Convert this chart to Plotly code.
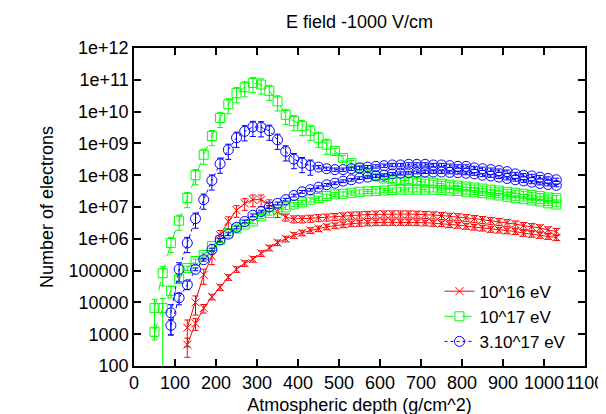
import plotly.graph_objects as go

# atmospheric depth grids (g/cm^2), one per energy
depth_16 = list(range(130, 1031, 20))
depth_17 = list(range(50, 1031, 20))
depth_3e17 = list(range(90, 1031, 20))

# 10^16 eV: upper branch (with field peak) and lower branch
e16_hi = [1.6e3, 1.0e4, 7.4e4, 2.8e5, 1.3e6, 3.5e6, 7.9e6, 1.3e7, 1.7e7, 1.7e7,
          1.2e7, 7.2e6, 4.8e6, 4.2e6, 4.2e6, 4.4e6, 4.6e6, 4.8e6, 5.0e6, 5.2e6,
          5.5e6, 5.6e6, 5.8e6, 5.9e6, 6.0e6, 6.0e6, 6.0e6, 6.0e6, 5.9e6, 5.8e6,
          5.6e6, 5.4e6, 5.1e6, 4.9e6, 4.6e6, 4.3e6, 4.0e6, 3.7e6, 3.5e6, 3.2e6,
          2.9e6, 2.6e6, 2.4e6, 2.2e6, 1.9e6, 1.7e6]
e16_lo = [4.7e2, 2.2e3, 6.6e3, 1.5e4, 3.0e4, 6.2e4, 1.1e5, 1.7e5, 2.3e5, 3.5e5,
          5.2e5, 7.6e5, 1.0e6, 1.3e6, 1.55e6, 1.85e6, 2.1e6, 2.4e6, 2.6e6, 2.8e6,
          3.0e6, 3.1e6, 3.2e6, 3.25e6, 3.3e6, 3.3e6, 3.3e6, 3.3e6, 3.25e6, 3.2e6,
          3.1e6, 3.0e6, 2.8e6, 2.7e6, 2.5e6, 2.35e6, 2.2e6, 2.0e6, 1.9e6, 1.8e6,
          1.7e6, 1.5e6, 1.4e6, 1.3e6, 1.2e6, 1.1e6]

# 10^17 eV
e17_hi = [6.6e3, 8.3e4, 7.4e5, 3.7e6, 1.9e7, 1.0e8, 4.4e8, 1.7e9, 6.3e9, 1.7e10,
          3.8e10, 5.8e10, 7.9e10, 7.1e10, 4.5e10, 2.1e10, 7.9e9, 5.0e9, 3.5e9, 2.5e9,
          1.5e9, 9.1e8, 5.8e8, 3.5e8, 2.4e8, 1.7e8, 1.2e8, 9.3e7, 7.9e7, 7.4e7,
          7.1e7, 6.8e7, 6.5e7, 6.2e7, 5.8e7, 5.4e7, 5.0e7, 4.7e7, 4.4e7, 4.1e7,
          3.8e7, 3.5e7, 3.3e7, 3.0e7, 2.8e7, 2.6e7, 2.4e7, 2.2e7, 2.0e7, 1.9e7]
e17_lo = [1.2e3, 6.6e3, 2.3e4, 5.5e4, 1.2e5, 2.0e5, 3.1e5, 5.9e5, 9.1e5, 1.5e6,
          2.1e6, 2.8e6, 3.5e6, 5.1e6, 6.5e6, 8.3e6, 9.8e6, 1.2e7, 1.4e7, 1.7e7,
          1.9e7, 2.2e7, 2.5e7, 2.6e7, 2.8e7, 3.0e7, 3.1e7, 3.2e7, 3.3e7, 3.4e7,
          3.5e7, 3.5e7, 3.5e7, 3.5e7, 3.5e7, 3.4e7, 3.3e7, 3.2e7, 3.0e7, 2.9e7,
          2.7e7, 2.5e7, 2.3e7, 2.1e7, 1.9e7, 1.8e7, 1.6e7, 1.5e7, 1.3e7, 1.2e7]

# 3.10^17 eV
e3e17_hi = [4.7e3, 1.1e5, 7.4e5, 4.3e6, 1.7e7, 6.8e7, 2.3e8, 6.3e8, 1.5e9, 2.4e9,
            3.3e9, 3.2e9, 2.5e9, 1.3e9, 5.6e8, 3.2e8, 2.4e8, 2.0e8, 1.8e8, 1.6e8,
            1.5e8, 1.5e8, 1.6e8, 1.7e8, 1.8e8, 1.9e8, 2.0e8, 2.1e8, 2.1e8, 2.2e8,
            2.2e8, 2.2e8, 2.1e8, 2.1e8, 2.0e8, 1.9e8, 1.9e8, 1.7e8, 1.6e8, 1.5e8,
            1.4e8, 1.3e8, 1.1e8, 1.0e8, 9.5e7, 8.7e7, 7.9e7, 7.2e7]
e3e17_lo = [1.9e3, 1.4e4, 3.6e4, 1.1e5, 2.2e5, 4.6e5, 9.3e5, 1.4e6, 2.3e6, 3.5e6,
            5.5e6, 7.2e6, 1.0e7, 1.3e7, 1.7e7, 2.3e7, 3.0e7, 3.5e7, 4.2e7, 5.0e7,
            5.6e7, 6.5e7, 7.2e7, 8.1e7, 8.7e7, 9.5e7, 1.0e8, 1.1e8, 1.15e8, 1.2e8,
            1.23e8, 1.26e8, 1.26e8, 1.26e8, 1.23e8, 1.2e8, 1.15e8, 1.1e8, 1.0e8, 9.5e7,
            8.7e7, 7.9e7, 7.2e7, 6.6e7, 6.0e7, 5.5e7, 5.1e7, 4.8e7]

# relative errors
e16_hi_rel = [0.75, 0.6, 0.5, 0.45, 0.4, 0.4, 0.4, 0.4, 0.4, 0.4, 0.4, 0.35] + [0.25] * 34
e16_lo_rel = [0.6, 0.4, 0.3] + [0.2] * 43
e17_hi_rel = [0.9, 0.6] + [0.5] * 20 + [0.2] * 28
e17_lo_rel = [0.3, 1.0, 0.4, 0.3] + [0.15] * 46
e3e17_hi_rel = [0.8, 0.6] + [0.5] * 16 + [0.12] * 30
e3e17_lo_rel = [0.5, 0.4, 0.3] + [0.1] * 45

y_ticks = [1e2, 1e3, 1e4, 1e5, 1e6, 1e7, 1e8, 1e9, 1e10, 1e11, 1e12]
y_ticktext = ["100", "1000", "10000", "100000", "1e+06", "1e+07", "1e+08",
              "1e+09", "1e+10", "1e+11", "1e+12"]

series = [
    ("10^16 eV", "#ff0000", "solid", "x-thin-open", 8, depth_16,
     [(e16_hi, e16_hi_rel), (e16_lo, e16_lo_rel)]),
    ("10^17 eV", "#00ff00", "dash", "square-open", 9, depth_17,
     [(e17_hi, e17_hi_rel), (e17_lo, e17_lo_rel)]),
    ("3.10^17 eV", "#0000ff", "dot", "circle-open", 10, depth_3e17,
     [(e3e17_hi, e3e17_hi_rel), (e3e17_lo, e3e17_lo_rel)]),
]

fig = go.Figure()
for name, col, dash, sym, size, xs, branches in series:
    for k, (ys, rel) in enumerate(branches):
        errs = [v * r for v, r in zip(ys, rel)]
        fig.add_trace(go.Scatter(
            x=xs, y=ys, name=name, legendgroup=name, showlegend=(k == 0),
            mode="lines+markers",
            line=dict(color=col, width=1, dash=dash),
            marker=dict(symbol=sym, size=size, color=col,
                        line=dict(color=col, width=1)),
            error_y=dict(type="data", array=errs, color=col,
                         thickness=1, width=3),
        ))

font = dict(family="Liberation Sans, Arial, sans-serif", size=18, color="black")
axis_common = dict(showline=True, linecolor="black", linewidth=1.5,
                   mirror="allticks", ticks="inside", ticklen=7, tickwidth=1.5,
                   tickcolor="black", showgrid=False, zeroline=False,
                   tickfont=font, tickangle=0, automargin=False)

fig.update_layout(
    width=606, height=414,
    margin=dict(l=126, r=29, t=40, b=56),
    paper_bgcolor="white", plot_bgcolor="white",
    font=font,
    title=dict(text="E field -1000 V/cm", x=(126 + 451 / 2) / 606, xanchor="center",
               y=1 - 14 / 414, yanchor="middle", yref="container", font=font),
    xaxis=dict(range=[0, 1100], dtick=100, tick0=0,
               title=dict(text="Atmospheric depth (g/cm^2)", font=font, standoff=6),
               **axis_common),
    yaxis=dict(type="log", range=[2, 12], tickvals=y_ticks, ticktext=y_ticktext,
               title=dict(text="Number of electrons", font=font, standoff=10),
               **axis_common),
    legend=dict(x=0.97, y=0.02, xanchor="right", yanchor="bottom",
                bgcolor="rgba(0,0,0,0)", font=dict(font, size=17), tracegroupgap=0),
)

fig.write_html("out.html")
